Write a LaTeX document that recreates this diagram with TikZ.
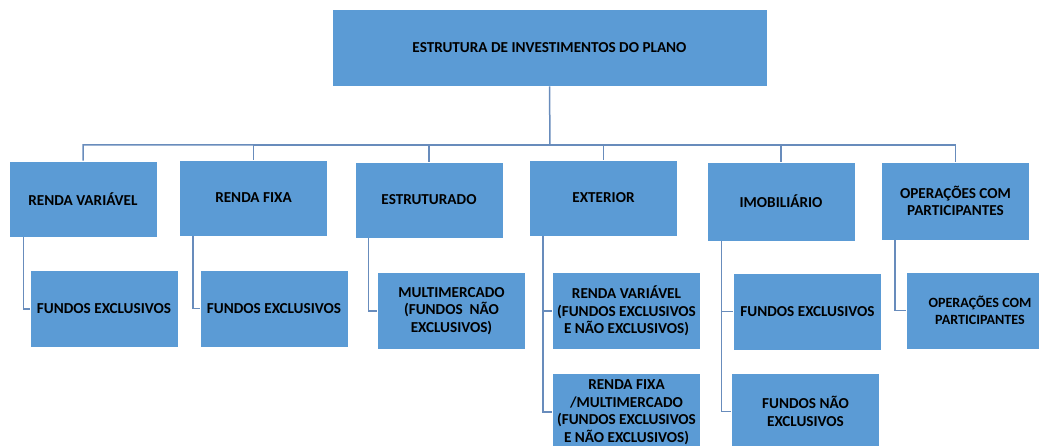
\documentclass[tikz,border=0pt]{standalone}
\usepackage{fontspec}
\setmainfont{Carlito}
\definecolor{boxblue}{RGB}{91,155,213}
\definecolor{linkblue}{RGB}{104,140,188}
\tikzset{
  box/.style={rectangle, fill=boxblue, draw=white, line width=0.6pt,
    minimum width=148, minimum height=77, align=center, inner sep=2pt,
    font=\fontsize{15.2}{17.5}\selectfont\bfseries},
  link/.style={draw=linkblue, line width=1.5pt}
}
\begin{document}
\begin{tikzpicture}[x=1pt,y=-1pt]
\useasboundingbox (0,0) rectangle (1039,446);
\clip (0,0) rectangle (1039,446);

% topo
\node[box, minimum width=435] (plano) at (549.5,47.5) {ESTRUTURA DE INVESTIMENTOS DO PLANO};

% segmentos
\node[box, minimum height=76] (rv)   at (83,199)    {RENDA VARIÁVEL};
\node[box, minimum height=76] (rf)   at (253.5,198) {RENDA FIXA};
\node[box, minimum height=76] (est)  at (429,200)   {ESTRUTURADO};
\node[box, minimum height=76] (ext)  at (603.5,198) {EXTERIOR};
\node[box, minimum height=79] (imob) at (781,201.5) {IMOBILIÁRIO};
\node[box, minimum height=78] (ops)  at (955.5,201) {OPERAÇÕES COM\\PARTICIPANTES};

% carteiras
\node[box] (rvFE)   at (104,309)    {FUNDOS EXCLUSIVOS};
\node[box] (rfFE)   at (274,308.5)  {FUNDOS EXCLUSIVOS};
\node[box] (estMM)  at (451.5,311)  {MULTIMERCADO\\(FUNDOS~ NÃO\\EXCLUSIVOS)};
\node[box] (extRV)  at (626.5,311)  {RENDA VARIÁVEL\\(FUNDOS EXCLUSIVOS\\E NÃO EXCLUSIVOS)};
\node[box] (extRF)  at (626.5,412)  {RENDA FIXA\\/MULTIMERCADO\\(FUNDOS EXCLUSIVOS\\E NÃO EXCLUSIVOS)};
\node[box] (imobFE) at (807.5,311.5){FUNDOS EXCLUSIVOS};
\node[box] (imobNE) at (805.5,411.5){FUNDOS NÃO\\EXCLUSIVOS};
\node[box, font=\fontsize{14.1}{16.5}\selectfont\bfseries] (opsOP) at (980,310.5) {OPERAÇÕES COM\\PARTICIPANTES};

% ligacoes
\coordinate (bus) at (550,145);
\draw[link] (plano.south) -- (bus) -| (rv.north);
\draw[link] (bus) -| (rf.north);
\draw[link] (bus) -| (est.north);
\draw[link] (bus) -| (ext.north);
\draw[link] (bus) -| (imob.north);
\draw[link] (bus) -| (ops.north);

\draw[link] ([xshift=15]rv.south west) |- (rvFE.west);
\draw[link] ([xshift=14]rf.south west) |- (rfFE.west);
\draw[link] ([xshift=14]est.south west) |- (estMM.west);
\draw[link] ([xshift=14]ext.south west) |- (extRV.west);
\draw[link] ([xshift=14]ext.south west) |- (extRF.west);
\draw[link] ([xshift=15]imob.south west) |- (imobFE.west);
\draw[link] ([xshift=15]imob.south west) |- (imobNE.west);
\draw[link] ([xshift=14]ops.south west) |- (opsOP.west);
\end{tikzpicture}
\end{document}
